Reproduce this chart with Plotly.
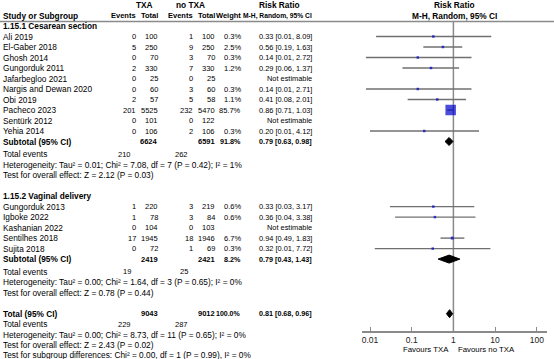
import math
import plotly.graph_objects as go

# ---------------- data ----------------
studies1 = ["Ali 2019", "El-Gaber 2018", "Ghosh 2014", "Gungorduk 2011", "Jafarbegloo 2021",
            "Nargis and Dewan 2020", "Obi 2019", "Pacheco 2023", "Sentürk 2012", "Yehia 2014"]
txa_events1 = [0, 5, 0, 2, 0, 0, 2, 201, 0, 0]
txa_total1 = [100, 250, 70, 330, 25, 60, 57, 5525, 101, 106]
ctl_events1 = [1, 9, 3, 7, 0, 3, 5, 232, 0, 2]
ctl_total1 = [100, 250, 70, 330, 25, 60, 58, 5470, 122, 106]
weight1 = [0.3, 2.5, 0.3, 1.2, None, 0.3, 1.1, 85.7, None, 0.3]
rr1 = [0.33, 0.56, 0.14, 0.29, None, 0.14, 0.41, 0.86, None, 0.20]
lo1 = [0.014, 0.19, 0.008, 0.06, None, 0.008, 0.08, 0.71, None, 0.010]
hi1 = [8.09, 1.63, 2.72, 1.37, None, 2.71, 2.01, 1.03, None, 4.12]

studies2 = ["Gungorduk 2013", "Igboke 2022", "Kashanian 2022", "Sentilhes 2018", "Sujita 2018"]
txa_events2 = [1, 1, 0, 17, 0]
txa_total2 = [220, 78, 104, 1945, 72]
ctl_events2 = [3, 3, 0, 18, 1]
ctl_total2 = [219, 84, 103, 1946, 69]
weight2 = [0.6, 0.6, None, 6.7, 0.3]
rr2 = [0.33, 0.36, None, 0.94, 0.32]
lo2 = [0.03, 0.04, None, 0.49, 0.013]
hi2 = [3.17, 3.38, None, 1.83, 7.72]

section_titles = ["1.15.1 Cesarean section", "1.15.2 Vaginal delivery"]
sub_txa_total = [6624, 2419]
sub_ctl_total = [6591, 2421]
sub_weight = [91.8, 8.2]
sub_rr = [0.79, 0.79]
sub_lo = [0.63, 0.43]
sub_hi = [0.98, 1.43]
sub_txa_events = [210, 19]
sub_ctl_events = [262, 25]
sub_het = ["Heterogeneity: Tau² = 0.01; Chi² = 7.08, df = 7 (P = 0.42); I² = 1%",
           "Heterogeneity: Tau² = 0.00; Chi² = 1.64, df = 3 (P = 0.65); I² = 0%"]
sub_test = ["Test for overall effect: Z = 2.12 (P = 0.03)",
            "Test for overall effect: Z = 0.78 (P = 0.44)"]

tot_txa_total = 9043
tot_ctl_total = 9012
tot_weight = 100.0
tot_rr, tot_lo, tot_hi = 0.81, 0.68, 0.96
tot_txa_events, tot_ctl_events = 229, 287
tot_het = "Heterogeneity: Tau² = 0.00; Chi² = 8.73, df = 11 (P = 0.65); I² = 0%"
tot_test = "Test for overall effect: Z = 2.43 (P = 0.02)"
subgroup_test = "Test for subgroup differences: Chi² = 0.00, df = 1 (P = 0.99), I² = 0%"

tick_vals = [0.01, 0.1, 1, 10, 100]
tick_text = ["0.01", "0.1", "1", "10", "100"]

# ---------------- layout constants ----------------
W, H = 554, 359
Y0, ROWH = 5.0, 10.5
FONT = "Liberation Sans"
FS = 8.3
FS_NUM = 7.5
FS_CI = 7.4
GRAY = "#8a8a8a"
BLUE = "#0000cc"

X_NAME = 2
X_TXA_EV, X_TXA_TOT = 137, 159
X_CTL_EV, X_CTL_TOT = 194, 216
X_WT, X_CI = 242, 313
X_TOTEV_TXA, X_TOTEV_CTL = 132, 189


def px2pos(py):
    return (py - Y0) / ROWH


def fmt_ci(r, l, h):
    return f"{r:.2f} [{l:.2f}, {h:.2f}]"


annotations = []


def txt(xpx, pos, s, anchor="right", bold=False, size=FS):
    if bold:
        s = f"<b>{s}</b>"
    annotations.append(dict(x=xpx / W, xref="paper", y=pos, yref="y", text=s,
                            showarrow=False, xanchor=anchor, yanchor="middle",
                            borderpad=0,
                            font=dict(family=FONT, size=size, color="#000")))


fig = go.Figure()

# headers
txt(144, 0, "TXA", "center", True)
txt(190, 0, "no TXA", "center", True)
txt(279, 0, "Risk Ratio", "center", True)
txt(454, 0, "Risk Ratio", "center", True, size=8.3)
txt(X_NAME, 1, "Study or Subgroup", "left", True)
txt(X_TXA_EV, 1, "Events", "right", True, FS_NUM)
txt(X_TXA_TOT, 1, "Total", "right", True, FS_NUM)
txt(X_CTL_EV, 1, "Events", "right", True, FS_NUM)
txt(X_CTL_TOT, 1, "Total", "right", True, FS_NUM)
txt(X_WT, 1, "Weight", "right", True, FS_NUM)
txt(X_CI, 1, "M-H, Random, 95% CI", "right", True, 6.7)
txt(454, 1, "M-H, Random, 95% CI", "center", True, size=8.3)

groups = [
    (studies1, txa_events1, txa_total1, ctl_events1, ctl_total1, weight1, rr1, lo1, hi1),
    (studies2, txa_events2, txa_total2, ctl_events2, ctl_total2, weight2, rr2, lo2, hi2),
]

pos = 2.0
ci_x, ci_y = [], []
mk_x, mk_y, mk_s = [], [], []
diamonds = []
for g, (names, te, tt, ce, ct, wt, rr, lo, hi) in enumerate(groups):
    txt(X_NAME, pos, section_titles[g], "left", True)
    pos += 1
    for i, n in enumerate(names):
        txt(X_NAME, pos, n, "left")
        txt(X_TXA_EV, pos, str(te[i]), size=FS_NUM)
        txt(X_TXA_TOT, pos, str(tt[i]), size=FS_NUM)
        txt(X_CTL_EV, pos, str(ce[i]), size=FS_NUM)
        txt(X_CTL_TOT, pos, str(ct[i]), size=FS_NUM)
        if rr[i] is None:
            txt(X_CI, pos, "Not estimable", size=FS_CI)
        else:
            txt(X_WT, pos, f"{wt[i]:.1f}%", size=FS_NUM)
            txt(X_CI, pos, fmt_ci(rr[i], lo[i], hi[i]), size=FS_CI)
            ci_x += [lo[i], hi[i], None]
            ci_y += [pos, pos, None]
            mk_x.append(rr[i])
            mk_y.append(pos)
            mk_s.append(max(2.5, 10.5 * math.sqrt(wt[i] / 85.7)))
        pos += 1
    # subtotal
    txt(X_NAME, pos, "Subtotal (95% CI)", "left", True)
    txt(X_TXA_TOT, pos, str(sub_txa_total[g]), "right", True, FS_NUM)
    txt(X_CTL_TOT, pos, str(sub_ctl_total[g]), "right", True, FS_NUM)
    txt(X_WT, pos, f"{sub_weight[g]:.1f}%", "right", True, 7.2)
    txt(X_CI, pos, fmt_ci(sub_rr[g], sub_lo[g], sub_hi[g]), "right", True, 7.2)
    diamonds.append((sub_rr[g], sub_lo[g], sub_hi[g], pos))
    pos += 1.2
    txt(X_NAME, pos, "Total events", "left")
    txt(X_TOTEV_TXA, pos, str(sub_txa_events[g]), size=FS_NUM)
    txt(X_TOTEV_CTL, pos, str(sub_ctl_events[g]), size=FS_NUM)
    pos += 1
    txt(X_NAME, pos, sub_het[g], "left")
    pos += 1
    txt(X_NAME, pos, sub_test[g], "left")
    pos += 2

# overall
txt(X_NAME, pos, "Total (95% CI)", "left", True)
txt(X_TXA_TOT, pos, str(tot_txa_total), "right", True, FS_NUM)
txt(X_CTL_TOT, pos, str(tot_ctl_total), "right", True, FS_NUM)
txt(X_WT, pos, f"{tot_weight:.1f}%", "right", True, 7.0)
txt(X_CI, pos, fmt_ci(tot_rr, tot_lo, tot_hi), "right", True, 7.2)
diamonds.append((tot_rr, tot_lo, tot_hi, pos))
pos += 1
txt(X_NAME, pos, "Total events", "left")
txt(X_TOTEV_TXA, pos, str(tot_txa_events), size=FS_NUM)
txt(X_TOTEV_CTL, pos, str(tot_ctl_events), size=FS_NUM)
pos += 1
txt(X_NAME, pos, tot_het, "left")
pos += 1
txt(X_NAME, pos, tot_test, "left")
pos += 0.95
txt(X_NAME, pos, subgroup_test, "left")

# favours labels
fav_pos = px2pos(349)
txt(450, fav_pos, "Favours TXA", "right", size=7.8)
txt(457, fav_pos, "Favours no TXA", "left", size=7.8)

AXIS_PX = 332
axis_pos = px2pos(AXIS_PX)
line_top = px2pos(21.5)

# vertical line of no effect
fig.add_trace(go.Scatter(x=[1, 1], y=[line_top, axis_pos], mode="lines",
                         line=dict(color=GRAY, width=1.5), hoverinfo="skip"))
# CI lines
fig.add_trace(go.Scatter(x=ci_x, y=ci_y, mode="lines",
                         line=dict(color="#707070", width=1.4), hoverinfo="skip"))
# study markers
fig.add_trace(go.Scatter(x=mk_x, y=mk_y, mode="markers", hoverinfo="skip",
                         marker=dict(symbol="square", size=mk_s, color=BLUE,
                                     line=dict(width=0))))
# diamonds
for (r, l, h, p) in diamonds:
    hh = 0.38
    fig.add_trace(go.Scatter(x=[l, r, h, r, l], y=[p, p - hh, p, p + hh, p],
                             mode="lines", fill="toself", fillcolor="black",
                             line=dict(color="black", width=1), hoverinfo="skip"))

# header rule
shapes = [dict(type="line", xref="paper", yref="y", x0=0, x1=1,
               y0=line_top, y1=line_top, line=dict(color=GRAY, width=1.5))]

DEC = 41.7
x_left_px, x_right_px = 362, 547
x0_px = 370  # where 0.01 sits
xr = [-2 - (x0_px - x_left_px) / DEC, -2 + (x_right_px - x0_px) / DEC]

fig.update_layout(
    width=W, height=H,
    margin=dict(l=0, r=0, t=0, b=0),
    paper_bgcolor="white", plot_bgcolor="white",
    showlegend=False,
    annotations=annotations,
    shapes=shapes,
    font=dict(family=FONT, size=FS, color="#000"),
    xaxis=dict(type="log", domain=[x_left_px / W, x_right_px / W], range=xr,
               anchor="free", position=(H - AXIS_PX) / H,
               showline=True, linecolor=GRAY, linewidth=1.5,
               showgrid=False, zeroline=False,
               ticks="inside", ticklen=4, tickcolor=GRAY, tickwidth=1.2,
               tickvals=tick_vals, ticktext=tick_text,
               tickfont=dict(family=FONT, size=8.5, color="#222")),
    yaxis=dict(domain=[0, 1], range=[px2pos(H), px2pos(0)], visible=False,
               showgrid=False, zeroline=False),
)

fig.write_html("out.html", config={"displayModeBar": False},
               post_script="document.body.style.margin='0px';document.body.style.padding='0px';")
